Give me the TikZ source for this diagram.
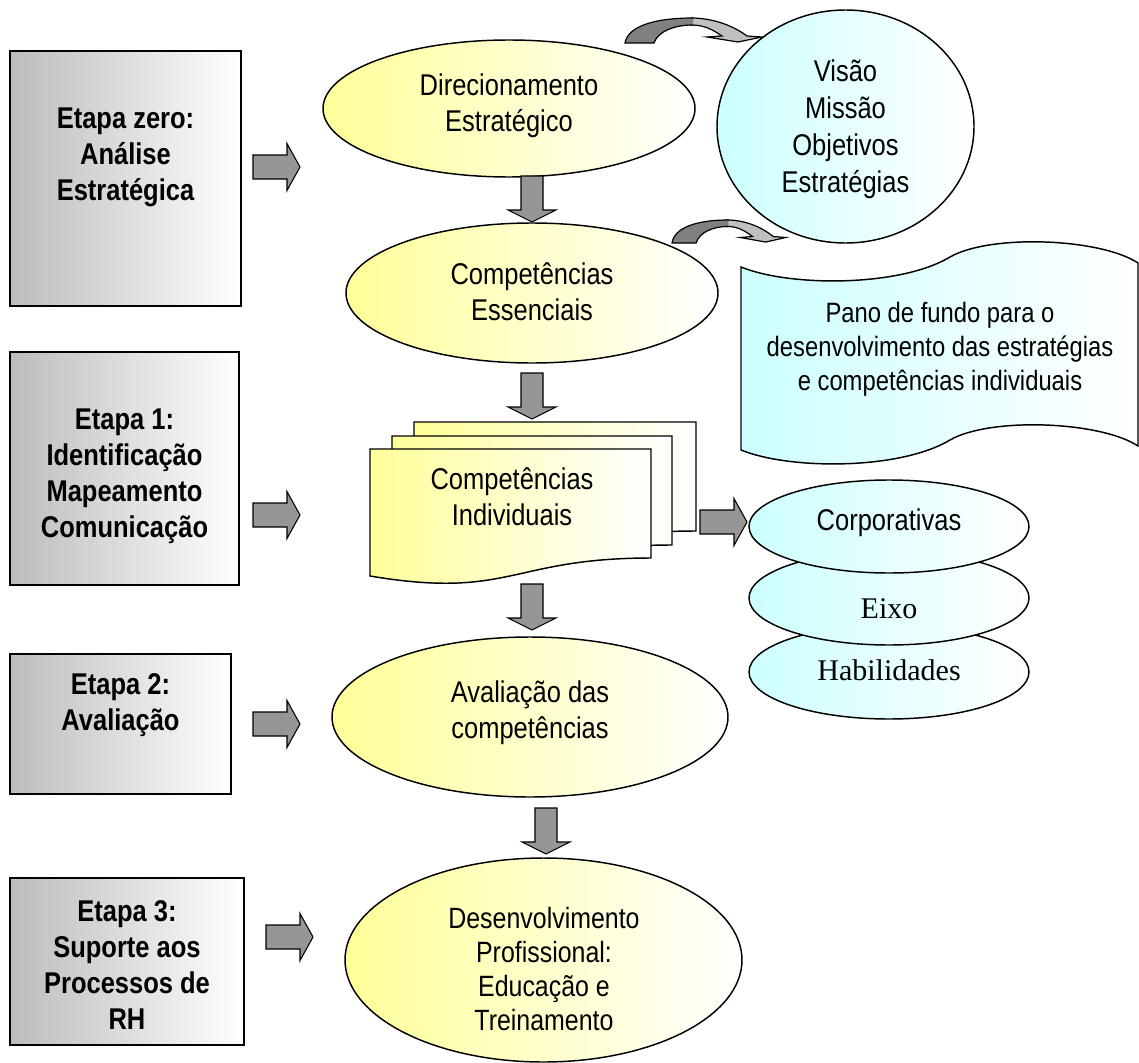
\documentclass[tikz,border=0pt]{standalone}
\usepackage{fontspec}
\setmainfont{Liberation Sans}[FakeStretch=0.85]
\newfontfamily\tnrfont{Liberation Serif}
\usetikzlibrary{shapes.geometric}
\definecolor{ylw}{RGB}{255,255,153}
\definecolor{cyn}{RGB}{204,255,255}
\definecolor{gry}{RGB}{188,188,188}
\definecolor{agray}{RGB}{150,150,150}
\definecolor{cdark}{RGB}{128,128,128}
\definecolor{clight}{RGB}{192,192,192}
\def\pu{0.75pt}
\tikzset{
  shp/.style={draw=black, line width=1.1pt, inner sep=0pt, outer sep=0pt},
  yell/.style={shp, ellipse, left color=ylw, right color=white},
  cell/.style={shp, ellipse, left color=cyn, right color=white},
  gbox/.style={shp, rectangle, left color=gry, right color=white},
  docpg/.style={draw=black, line width=1.1pt, left color=ylw, right color=white},
  arrowfill/.style={draw=black, line width=0.8pt, fill=agray, line join=miter},
  cline/.style={draw=black, line width=0.9pt, line cap=round},
  txt/.style={align=center, inner sep=0pt, font=\fontsize{22.5}{27}\selectfont},
  btxt/.style={align=center, inner sep=0pt, font=\fontsize{22.5}{27}\selectfont\bfseries},
  harrow/.pic={\draw[arrowfill] (0,-12) -- (34,-12) -- (34,-23.5) -- (47,0) -- (34,23.5) -- (34,12) -- (0,12) -- cycle;},
  varrow/.pic={\draw[arrowfill] (-11,0) -- (11,0) -- (11,34) -- (24,34) -- (0,46) -- (-24,34) -- (-11,34) -- cycle;},
  curvarrow/.pic={
    \draw[draw=black, line width=0.9pt, fill=clight, line join=miter]
      (66,-25) .. controls (90,-25) and (110,-16) .. (122,-7) -- (137,-6) -- (113,-1) -- (82,-6) -- (97,-7)
      .. controls (88,-13) and (80,-18) .. (66,-18) -- cycle;
    \fill[cdark]
      (0,0) .. controls (3,-17) and (30,-25) .. (68,-25) -- (68,-18) .. controls (50,-18) and (33,-12) .. (29,0) -- cycle;
    \draw[cline] (68,-25) .. controls (30,-25) and (3,-17) .. (0,0) -- (29,0) .. controls (33,-12) and (50,-18) .. (68,-18);
  }
}
\begin{document}
\begin{tikzpicture}[x=0.75pt,y=-0.75pt]
\useasboundingbox (0,0) rectangle (1139,1063);

% left boxes
\node[gbox, minimum width={231*\pu}, minimum height={255*\pu}] (box0) at (125.5,178.5) {};
\node[gbox, minimum width={229*\pu}, minimum height={233*\pu}] (box1) at (124.5,468.5) {};
\node[gbox, minimum width={221*\pu}, minimum height={140*\pu}] (box2) at (120.5,724) {};
\node[gbox, minimum width={234*\pu}, minimum height={167*\pu}] (box3) at (127,961.5) {};
\node[btxt] (box0t) at (125.5,157) {Etapa zero:\\Análise\\Estratégica};
\node[btxt] (box1t) at (124.5,476) {Etapa 1:\\Identificação\\Mapeamento\\Comunicação};
\node[btxt] (box2t) at (120.5,705) {Etapa 2:\\Avaliação};
\node[btxt] (box3t) at (127,965) {Etapa 3:\\Suporte aos\\Processos de\\RH};

% horizontal arrows
\pic at (253,167) {harrow};
\pic at (253,515) {harrow};
\pic at (253,724) {harrow};
\pic at (266,937) {harrow};
\pic at (700,522) {harrow};

% yellow ellipses
\node[yell, minimum width={372*\pu}, minimum height={137*\pu}] (dir) at (509,108.5) {};
\node[txt] (dirt) at (509,106) {Direcionamento\\Estratégico};
\node[yell, minimum width={372*\pu}, minimum height={140*\pu}] (ess) at (532,293) {};
\node[txt] (esst) at (532,292) {Competências\\Essenciais};
\node[yell, minimum width={396*\pu}, minimum height={160*\pu}] (aval) at (530,717) {};
\node[txt] (avalt) at (530,713) {Avaliação das\\competências};
\node[yell, minimum width={397*\pu}, minimum height={204*\pu}] (dev) at (543.5,960) {};
\node[txt, font=\fontsize{22}{25.5}\selectfont] (devt) at (544,969) {Desenvolvimento\\Profissional:\\Educação e\\Treinamento};

% document stack
\draw[docpg] (414,422) -- (696,422) -- (696,531) .. controls (555,531) and (555,572.6) .. (414,549) -- cycle;
\draw[docpg] (392,436) -- (672,436) -- (672,545) .. controls (532,545) and (532,586.6) .. (392,563) -- cycle;
\draw[docpg] (370,449) -- (651,449) -- (651,558) .. controls (510.5,558) and (510.5,599.6) .. (370,576) -- cycle;
\node[txt] (indt) at (512,497) {Competências\\Individuais};

% vertical arrows
\pic at (532,176) {varrow};
\pic at (532,373) {varrow};
\pic at (532,584) {varrow};
\pic at (546,808) {varrow};

% circle
\node[cell, minimum width={257*\pu}, minimum height={233*\pu}] (vis) at (845.5,126.5) {};
\node[txt, font=\fontsize{22.5}{27.75}\selectfont] (vist) at (845.5,129) {Visão\\Missão\\Objetivos\\Estratégias};

% curved arrows
\pic at (625,43) {curvarrow};
\pic[xscale=0.83, yscale=0.92] at (672,243) {curvarrow};

% banner
\draw[draw=black, line width=1.1pt, left color=cyn, right color=white]
  (741,267) .. controls (790,287) and (900,287) .. (950,257)
  .. controls (990,234) and (1100,238) .. (1138,263)
  -- (1138,446)
  .. controls (1100,421) and (990,417) .. (950,440)
  .. controls (900,470) and (790,470) .. (741,450) -- cycle;
\node[txt, font=\fontsize{21}{25.5}\selectfont] (bant) at (940,349) {Pano de fundo para o\\desenvolvimento das estratégias\\e competências individuais};

% small ellipses
\node[cell, minimum width={280*\pu}, minimum height={94*\pu}] (hab) at (889,672) {};
\node[cell, minimum width={280*\pu}, minimum height={94*\pu}] (eixo) at (889,598) {};
\node[cell, minimum width={280*\pu}, minimum height={93*\pu}] (corp) at (889,526.5) {};
\node[txt] (corpt) at (889,523) {Corporativas};
\node[txt, font=\fontsize{22.5}{27}\tnrfont] (eixot) at (889,609) {Eixo};
\node[txt, font=\fontsize{22.5}{27}\tnrfont] (habt) at (889,670) {Habilidades};
\end{tikzpicture}
\end{document}
